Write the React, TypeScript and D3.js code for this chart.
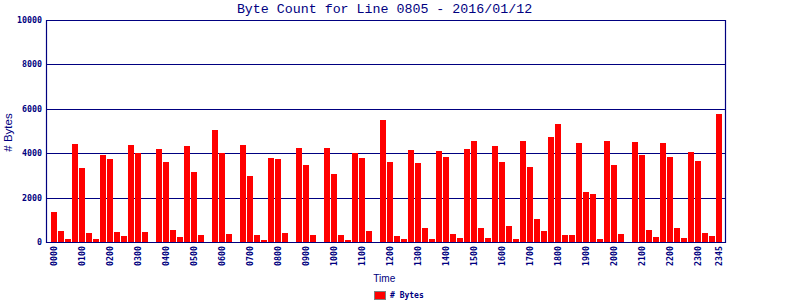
import React from "react";
import * as d3 from "d3";

const W = 800;
const H = 300;

const TITLE = "Byte Count for Line 0805 - 2016/01/12";
const Y_TITLE = "# Bytes";
const X_TITLE = "Time";
const LEGEND_LABEL = "# Bytes";

const times = [
  "0000","0015","0030","0045","0100","0115","0130","0145",
  "0200","0215","0230","0245","0300","0315","0330","0345",
  "0400","0415","0430","0445","0500","0515","0530","0545",
  "0600","0615","0630","0645","0700","0715","0730","0745",
  "0800","0815","0830","0845","0900","0915","0930","0945",
  "1000","1015","1030","1045","1100","1115","1130","1145",
  "1200","1215","1230","1245","1300","1315","1330","1345",
  "1400","1415","1430","1445","1500","1515","1530","1545",
  "1600","1615","1630","1645","1700","1715","1730","1745",
  "1800","1815","1830","1845","1900","1915","1930","1945",
  "2000","2015","2030","2045","2100","2115","2130","2145",
  "2200","2215","2230","2245","2300","2315","2330","2345",
];

const bytes = [
  1360, 500, 140, 4410, 3330, 410, 140, 3920,
  3740, 450, 270, 4370, 3990, 450, 0, 4190,
  3600, 540, 230, 4330, 3150, 320, 0, 5040,
  3990, 360, 0, 4370, 2970, 320, 90, 3780,
  3740, 410, 0, 4230, 3460, 320, 0, 4230,
  3060, 320, 90, 3990, 3780, 500, 0, 5490,
  3600, 270, 140, 4140, 3550, 630, 140, 4100,
  3830, 360, 180, 4190, 4550, 630, 180, 4320,
  3600, 720, 140, 4550, 3370, 1040, 500, 4730,
  5310, 320, 320, 4460, 2250, 2160, 140, 4550,
  3460, 360, 0, 4500, 3920, 540, 230, 4460,
  3830, 630, 180, 4050, 3640, 410, 270, 5760,
];

const tickLabels = [
  "0000","0100","0200","0300","0400","0500","0600","0700",
  "0800","0900","1000","1100","1200","1300","1400","1500",
  "1600","1700","1800","1900","2000","2100","2200","2300","2345",
];

const yTicks = [0, 2000, 4000, 6000, 8000, 10000];

const NAVY = "#000080";
const MONO = "'DejaVu Sans Mono', 'Liberation Mono', monospace";
const THIN_MONO = "'Liberation Mono', 'DejaVu Sans Mono', monospace";
const SANS = "'Liberation Sans', Arial, sans-serif";

export default function App() {
  const plotLeft = 46;
  const plotRight = 725;
  const plotTop = 20;
  const plotBottom = 242;

  const x = d3
    .scaleBand<string>()
    .domain(times)
    .range([51, 722])
    .paddingInner(1 / 7)
    .paddingOuter(0);

  const y = d3.scaleLinear().domain([0, 10000]).range([plotBottom, plotTop]);

  return (
    <svg
      width={W}
      height={H}
      style={{ position: "absolute", left: 0, top: 0, background: "#fff" }}
    >
      <rect x={0} y={0} width={W} height={H} fill="#fff" />
      {/* title */}
      <text
        x={384.5}
        y={13}
        textAnchor="middle"
        fontFamily={THIN_MONO}
        fontSize={13.3}
        fill={NAVY}
      >
        {TITLE}
      </text>

      {/* grid lines */}
      {yTicks.map((t) => (
        <line
          key={"g" + t}
          x1={plotLeft}
          x2={plotRight}
          y1={Math.round(y(t)) + 0.5}
          y2={Math.round(y(t)) + 0.5}
          stroke={NAVY}
          strokeWidth={1.2}
        />
      ))}

      {/* bars */}
      {bytes.map((v, i) =>
        v > 0 ? (
          <rect
            key={"b" + i}
            x={x(times[i])}
            y={y(v)}
            width={x.bandwidth()}
            height={plotBottom - y(v)}
            fill="#ff0000"
            shapeRendering="crispEdges"
          />
        ) : null
      )}

      {/* baseline redraw */}
      <line
        x1={plotLeft}
        x2={plotRight}
        y1={plotBottom + 0.5}
        y2={plotBottom + 0.5}
        stroke={NAVY}
        strokeWidth={1.2}
      />
      {/* left & right axes */}
      <line
        x1={plotLeft + 0.5}
        x2={plotLeft + 0.5}
        y1={plotTop}
        y2={plotBottom + 1}
        stroke={NAVY}
        strokeWidth={1.2}
      />
      <line
        x1={plotRight + 0.5}
        x2={plotRight + 0.5}
        y1={plotTop}
        y2={plotBottom + 1}
        stroke={NAVY}
        strokeWidth={1.2}
      />

      {/* y tick labels */}
      {yTicks.map((t) => (
        <text
          key={"yl" + t}
          x={42}
          y={y(t) + 3}
          textAnchor="end"
          fontFamily={MONO}
          fontWeight="bold"
          fontSize={8.3}
          fill={NAVY}
        >
          {d3.format("d")(t)}
        </text>
      ))}

      {/* x tick labels */}
      {tickLabels.map((lab) => {
        const px = (x(lab) as number) + x.bandwidth() / 2 + 3;
        return (
          <text
            key={"xl" + lab}
            transform={`translate(${px},246) rotate(-90)`}
            textAnchor="end"
            fontFamily={MONO}
            fontWeight="bold"
            fontSize={8.3}
            fill={NAVY}
          >
            {lab}
          </text>
        );
      })}

      {/* axis titles */}
      <text
        transform={`translate(11.5,132.5) rotate(-90)`}
        textAnchor="middle"
        fontFamily={SANS}
        fontSize={11.5}
        fill={NAVY}
      >
        {Y_TITLE}
      </text>
      <text
        x={373.3}
        y={281.7}
        fontFamily={SANS}
        fontSize={11.5}
        textLength={22}
        lengthAdjust="spacingAndGlyphs"
        fill={NAVY}
      >
        {X_TITLE}
      </text>

      {/* legend */}
      <rect
        x={374.5}
        y={291.5}
        width={11}
        height={8}
        fill="#ff0000"
        stroke="#808080"
        strokeWidth={1}
      />
      <text
        x={390}
        y={298}
        fontFamily={MONO}
        fontWeight="bold"
        fontSize={8}
        fill={NAVY}
      >
        {LEGEND_LABEL}
      </text>
    </svg>
  );
}
